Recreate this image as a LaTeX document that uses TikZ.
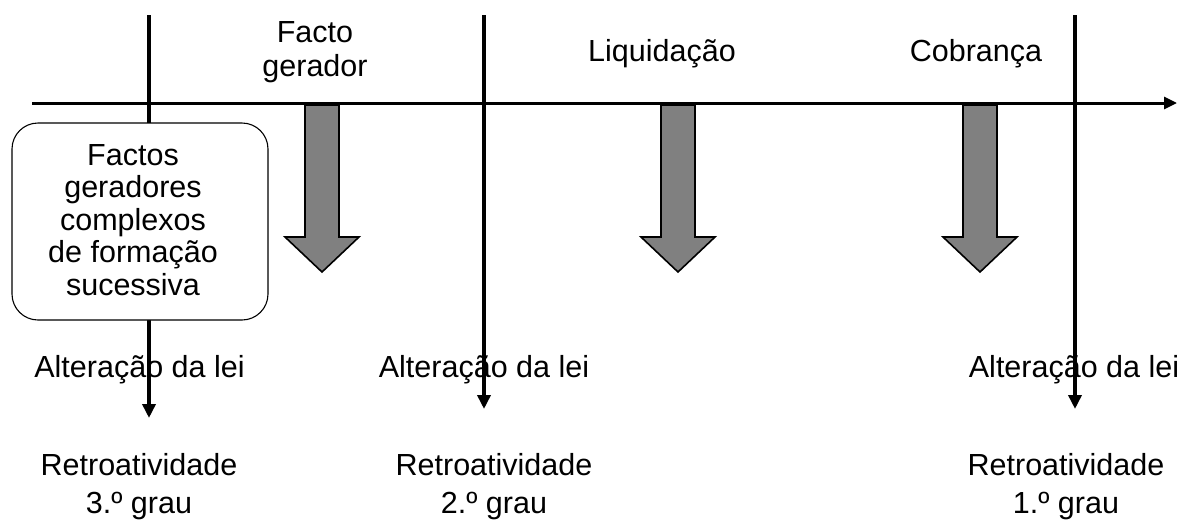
\documentclass[tikz,border=0pt]{standalone}
\usepackage{fontspec}
\setmainfont{Liberation Sans}
\usetikzlibrary{arrows.meta}
\begin{document}
\begin{tikzpicture}[x=1pt,y=-1pt,
  every node/.style={font=\fontsize{30.5}{34}\selectfont, inner sep=0pt, anchor=base},
  vline/.style={line width=3.6pt, -{Triangle[length=14pt,width=13pt]}},
  axis/.style={line width=3pt, -{Triangle[length=13pt,width=12pt]}},
  fat/.style={fill=black!50, draw=black, line width=1.6pt, line join=miter},
  roundbox/.style={draw=black, fill=white, line width=1.1pt, rounded corners=26pt}]
\useasboundingbox (0,0) rectangle (1187,520);
% vertical lines
\coordinate (t1) at (149,15); \coordinate (b1) at (149,418);
\coordinate (t2) at (484,15); \coordinate (b2) at (484,409);
\coordinate (t3) at (1075,15); \coordinate (b3) at (1075,409);
\draw[vline] (t1) -- (b1);
\draw[vline] (t2) -- (b2);
\draw[vline] (t3) -- (b3);
% rounded box
\draw[roundbox] (12,123) rectangle (268,320);
\node (bx1) at (133,165) {Factos};
\node (bx2) at (133,197.5) {geradores};
\node (bx3) at (133,230) {complexos};
\node (bx4) at (133,262.5) {de formação};
\node (bx5) at (133,295) {sucessiva};
% fat arrows
\foreach \x in {322,678,980}{
  \draw[fat] (\x-17,105) -- (\x+17,105) -- (\x+17,237) -- (\x+37,237) -- (\x,272) -- (\x-37,237) -- (\x-17,237) -- cycle;
}
% axis
\coordinate (a0) at (32,103); \coordinate (a1) at (1177,103);
\draw[axis] (a0) -- (a1);
% top labels
\node (fg1) at (315,42) {Facto};
\node (fg2) at (315,76) {gerador};
\node (liq) at (662,61) {Liquidação};
\node (cob) at (976,61) {Cobrança};
% bottom labels
\node (al1) at (139.5,377) {Alteração da lei};
\node (al2) at (484,377) {Alteração da lei};
\node (al3) at (1074,377) {Alteração da lei};
\node (r1a) at (139,475) {Retroatividade};
\node (r1b) at (139,513) {3.º grau};
\node (r2a) at (494,475) {Retroatividade};
\node (r2b) at (494,513) {2.º grau};
\node (r3a) at (1066,475) {Retroatividade};
\node (r3b) at (1066,513) {1.º grau};
\end{tikzpicture}
\end{document}
